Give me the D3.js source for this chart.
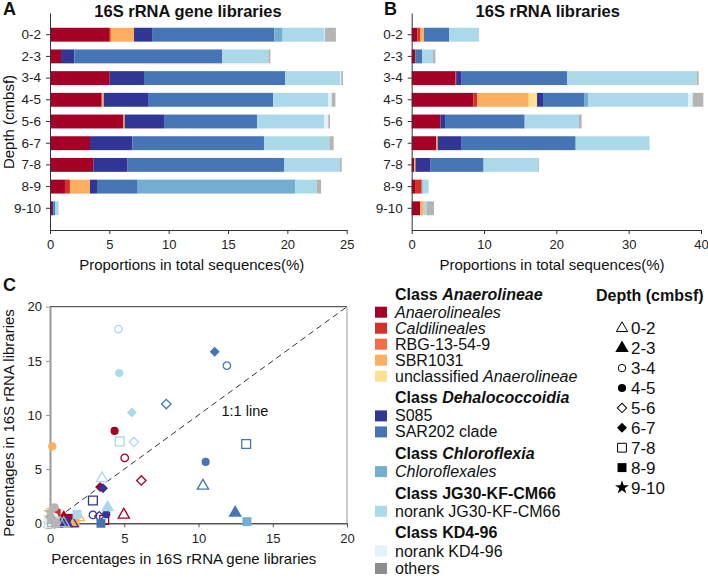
<!DOCTYPE html>
<html><head><meta charset="utf-8">
<script src="https://cdn.jsdelivr.net/npm/d3@7"></script>
<style>body{margin:0;background:#fff} text{font-family:"Liberation Sans",Arial,sans-serif}</style>
</head><body><svg id="c" width="708" height="580"></svg>
<script>
// ---------------- DATA ----------------
const depths = ["0-2","2-3","3-4","4-5","5-6","6-7","7-8","8-9","9-10"];
const taxa = ["Anaerolineales","Caldilineales","RBG-13-54-9","SBR1031","unclassified Anaerolineae",
              "S085","SAR202 clade","Chloroflexales","norank JG30-KF-CM66","norank KD4-96","others"];
const taxonColors = ["#a50026","#d73027","#f46d43","#fdae61","#fee090",
                     "#313695","#4575b4","#74add1","#abd9e9","#e0f3f8","#b4b4b4"];
const ticksA = [0,5,10,15,20,25];
const ticksB = [0,10,20,30,40];
const ticksC = [0,5,10,15,20];
// proportions (%) in 16S rRNA gene libraries, one row per taxon, one value per depth
const geneLib = [
  [4.97, 0.93, 5.03, 4.35, 6.15, 3.37, 3.65, 1.26, 0.17],  // Anaerolineales
  [0.09, 0.00, 0.00, 0.03, 0.05, 0.00, 0.00, 0.42, 0.00],  // Caldilineales
  [0.08, 0.00, 0.00, 0.00, 0.00, 0.00, 0.00, 0.00, 0.00],  // RBG-13-54-9
  [1.94, 0.00, 0.00, 0.15, 0.09, 0.00, 0.00, 1.69, 0.00],  // SBR1031
  [0.00, 0.00, 0.00, 0.00, 0.00, 0.00, 0.00, 0.00, 0.00],  // unclassified Anaerolineae
  [1.52, 1.12, 2.89, 3.79, 3.32, 3.57, 2.89, 0.59, 0.11],  // S085
  [10.30,12.47,11.91,10.48, 7.83,11.09,13.21, 3.43, 0.14], // SAR202 clade
  [0.70, 0.00, 0.00, 0.00, 0.00, 0.00, 0.00,13.26, 0.00],  // Chloroflexales
  [3.51, 3.88, 4.61, 4.66, 5.65, 5.51, 4.69, 1.82, 0.31],  // norank JG30-KF-CM66
  [0.05, 0.00, 0.10, 0.28, 0.36, 0.00, 0.00, 0.00, 0.00],  // norank KD4-96
  [0.93, 0.17, 0.15, 0.31, 0.14, 0.36, 0.14, 0.37, 0.00]   // others
];
// proportions (%) in 16S rRNA libraries
const rnaLib = [
  [0.78, 0.51, 6.04, 8.53, 3.96, 3.36, 0.32, 0.46, 1.15],  // Anaerolineales
  [0.37, 0.00, 0.10, 0.55, 0.00, 0.00, 0.00, 0.92, 0.00],  // Caldilineales
  [0.00, 0.00, 0.00, 0.00, 0.00, 0.00, 0.00, 0.00, 0.00],  // RBG-13-54-9
  [0.55, 0.00, 0.00, 7.10, 0.00, 0.23, 0.20, 0.00, 0.51],  // SBR1031
  [0.00, 0.00, 0.00, 1.15, 0.00, 0.00, 0.00, 0.00, 0.00],  // unclassified Anaerolineae
  [0.00, 0.00, 0.77, 0.83, 0.65, 3.23, 2.10, 0.00, 0.00],  // S085
  [3.46, 0.97,14.56, 5.67,11.01,15.85, 7.32, 0.00, 0.00],  // SAR202 clade
  [0.00, 0.00, 0.00, 0.55, 0.00, 0.00, 0.00, 0.15, 0.00],  // Chloroflexales
  [4.15, 1.47,17.93,13.87, 7.51,10.23, 7.56, 0.82, 0.41],  // norank JG30-KF-CM66
  [0.00, 0.00, 0.00, 0.60, 0.00, 0.00, 0.00, 0.00, 0.00],  // norank KD4-96
  [0.00, 0.32, 0.28, 1.47, 0.37, 0.00, 0.10, 0.00, 1.02]   // others
];

// ---------------- DRAWING ----------------
const svg = d3.select("#c");
const yBand = d3.scaleBand().domain(depths).range([13,230]).paddingInner(0.36).paddingOuter(0.68);

function styleAxis(g, stroke, width){
  g.select(".domain").attr("stroke",stroke).attr("stroke-width",width);
  g.selectAll(".tick line").attr("stroke",stroke);
  g.selectAll(".tick text").attr("fill","#222").style("font-size","13px")
   .style("font-family",'"Liberation Sans",Arial,sans-serif');
}

function drawBars(values, x0, x1, xmax, ticks, title, titleX, letter, letterX, axisLabelX){
  const x = d3.scaleLinear().domain([0,xmax]).range([x0,x1]);
  const rows = depths.map((d,i)=>{const o={depth:d}; taxa.forEach((t,j)=>o[t]=values[j][i]); return o;});
  const series = d3.stack().keys(taxa)(rows);
  const g = svg.append("g");
  g.selectAll("g.s").data(series).join("g").attr("class","s").attr("fill",(d,j)=>taxonColors[j])
    .selectAll("rect").data(d=>d).join("rect")
    .attr("x",d=>x(d[0])).attr("width",d=>Math.max(0,x(d[1])-x(d[0])))
    .attr("y",d=>yBand(d.data.depth)).attr("height",yBand.bandwidth());
  const ax = g.append("g").attr("transform","translate(0,230)")
    .call(d3.axisBottom(x).tickValues(ticks).tickSize(4).tickSizeOuter(0).tickPadding(6));
  styleAxis(ax,"#333",1);
  const ay = g.append("g").attr("transform",`translate(${x0},0)`)
    .call(d3.axisLeft(yBand).tickSize(4).tickSizeOuter(0).tickPadding(5));
  styleAxis(ay,"#333",1);
  ay.selectAll(".tick text").style("font-size","13.5px");
  g.append("text").attr("x",titleX).attr("y",16.5).attr("text-anchor","middle")
    .style("font-size","16.5px").style("font-weight","bold").attr("fill","#111").text(title);
  g.append("text").attr("x",letterX).attr("y",15).style("font-size","18px").style("font-weight","bold").attr("fill","#111").text(letter);
  g.append("text").attr("x",axisLabelX).attr("y",270).attr("text-anchor","middle")
    .style("font-size","15px").attr("fill","#111").text("Proportions in total sequences(%)");
}

drawBars(geneLib, 50, 346.7, 25, ticksA, "16S rRNA gene libraries", 188, "A", 3, 191.7);
drawBars(rnaLib, 411.7, 701, 40, ticksB, "16S rRNA libraries", 547.7, "B", 384, 552);
svg.append("text").attr("transform","translate(14,122) rotate(-90)").attr("text-anchor","middle")
  .style("font-size","15px").attr("fill","#111").text("Depth (cmbsf)");

// ---------------- PANEL C ----------------
const xC = d3.scaleLinear().domain([0,20]).range([50,347]);
const yC = d3.scaleLinear().domain([0,20]).range([523.3,306.7]);
const symTypes = [d3.symbolTriangle,d3.symbolTriangle,d3.symbolCircle,d3.symbolCircle,
                  d3.symbolSquare,d3.symbolSquare,d3.symbolSquare,d3.symbolSquare,d3.symbolStar];
const symSizes = [55,78,44,52,44,50,78,80,60];
const symFilled = [false,true,false,true,false,true,false,true,true];
const symRot = [0,0,0,0,45,45,0,0,0];

// frame
svg.append("line").attr("x1",xC(0)).attr("x2",xC(20)).attr("y1",yC(20)).attr("y2",yC(20)).attr("stroke","#333").attr("stroke-width",1);
svg.append("line").attr("x1",xC(20)).attr("x2",xC(20)).attr("y1",yC(20)).attr("y2",yC(0)).attr("stroke","#999").attr("stroke-width",1);
// 1:1 line
svg.append("line").attr("x1",xC(0)).attr("y1",yC(0)).attr("x2",xC(20)).attr("y2",yC(20))
  .attr("stroke","#333").attr("stroke-width",1).attr("stroke-dasharray","6,4");
svg.append("text").attr("x",xC(11.55)).attr("y",yC(9.9)).style("font-size","14.5px").attr("fill","#111").text("1:1 line");

const axC = svg.append("g").attr("transform",`translate(0,${yC(0)})`)
  .call(d3.axisBottom(xC).tickValues(ticksC).tickSize(4).tickSizeOuter(0).tickPadding(6));
styleAxis(axC,"#555",1.5);
const ayC = svg.append("g").attr("transform",`translate(${xC(0)},0)`)
  .call(d3.axisLeft(yC).tickValues(ticksC).tickSize(4).tickSizeOuter(0).tickPadding(4));
styleAxis(ayC,"#999",2);

const pts = [];
taxa.forEach((t,j)=>depths.forEach((d,i)=>pts.push({j,i,gx:geneLib[j][i],ry:rnaLib[j][i]})));
svg.append("g").selectAll("path").data(pts).join("path")
  .attr("d",p=>d3.symbol().type(symTypes[p.i]).size(symSizes[p.i])())
  .attr("transform",p=>`translate(${xC(p.gx)},${yC(p.ry)}) rotate(${symRot[p.i]})`)
  .attr("fill",p=>symFilled[p.i]?taxonColors[p.j]:"none")
  .attr("stroke",p=>taxonColors[p.j]).attr("stroke-width",p=>symFilled[p.i]?0:1.3);

svg.append("text").attr("x",183.8).attr("y",563.5).attr("text-anchor","middle")
  .style("font-size","15px").attr("fill","#111").text("Percentages in 16S rRNA gene libraries");
svg.append("text").attr("transform","translate(14,423) rotate(-90)").attr("text-anchor","middle")
  .style("font-size","15px").attr("fill","#111").text("Percentages in 16S rRNA libraries");
svg.append("text").attr("x",3).attr("y",291).style("font-size","18px").style("font-weight","bold").attr("fill","#111").text("C");

// ---------------- LEGENDS ----------------
const legendGroups = [
  {title:["Class ","Anaerolineae"], items:[0,1,2,3,4]},
  {title:["Class ","Dehalococcoidia"], items:[5,6]},
  {title:["Class ","Chloroflexia"], items:[7]},
  {title:["Class JG30-KF-CM66",""], items:[8]},
  {title:["Class KD4-96",""], items:[9]},
  {title:null, items:[10]}
];
const itemLabels = [[["Anaerolineales",1]],[["Caldilineales",1]],[["RBG-13-54-9",0]],[["SBR1031",0]],
  [["unclassified ",0],["Anaerolineae",1]],[["S085",0]],[["SAR202 clade",0]],[["Chloroflexales",1]],
  [["norank JG30-KF-CM66",0]],[["norank KD4-96",0]],[["others",0]]];
const lg = svg.append("g");
let ly = 294, first = true;
legendGroups.forEach(gp=>{
  if(gp.title){
    if(!first) ly += 21.5;
    const t = lg.append("text").attr("x",395).attr("y",ly+5.5).style("font-size","16px").style("font-weight","bold").attr("fill","#111");
    t.append("tspan").text(gp.title[0]);
    if(gp.title[1]) t.append("tspan").style("font-style","italic").text(gp.title[1]);
    ly += 18.2;
  } else { ly += 17.5; }
  gp.items.forEach((k,n)=>{
    if(n>0) ly += 16;
    lg.append("rect").attr("x",375).attr("y",ly-5.5).attr("width",12).attr("height",11)
      .attr("fill",k===10?"#8c8c8c":taxonColors[k]);
    const t = lg.append("text").attr("x",395).attr("y",ly+5.5).style("font-size","16px").attr("fill","#111");
    itemLabels[k].forEach(([s,it])=>t.append("tspan").style("font-style",it?"italic":"normal").text(s));
  });
  first = false;
});

svg.append("text").attr("x",596).attr("y",300.5).style("font-size","16px").style("font-weight","bold").attr("fill","#111").text("Depth (cmbsf)");
depths.forEach((d,i)=>{
  const cy = 328.3 + i*19.9;
  svg.append("path").attr("d",d3.symbol().type(symTypes[i]).size(symSizes[i])())
    .attr("transform",`translate(622,${cy}) rotate(${symRot[i]})`)
    .attr("fill",symFilled[i]?"#000":"none").attr("stroke","#000").attr("stroke-width",symFilled[i]?0:1);
  svg.append("text").attr("x",631).attr("y",cy+6).style("font-size","17px").attr("fill","#111").text(d);
});
</script></body></html>
